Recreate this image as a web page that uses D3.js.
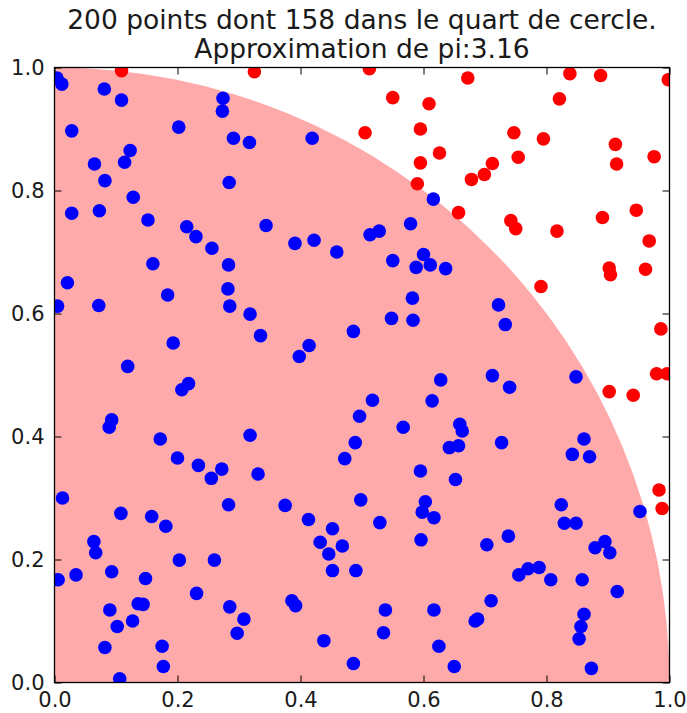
<!DOCTYPE html>
<html>
<head>
<meta charset="utf-8">
<script src="https://cdnjs.cloudflare.com/ajax/libs/d3/7.8.5/d3.min.js"></script>
<style>
  body { margin: 0; background: #fff; }
  text { font-family: "DejaVu Sans", sans-serif; fill: #1a1a1a; }
</style>
</head>
<body>
<div id="chart"></div>
<script>
// points dans le quart de cercle (bleu)
var insideX = [0.004,0.012,0.081,0.109,0.274,0.273,0.028,0.202,0.291,0.317,0.123,0.114,0.065,0.082,0.284,0.128,0.028,0.073,0.152,0.215,
  0.230,0.256,0.160,0.283,0.344,0.616,0.419,0.579,0.391,0.422,0.459,0.513,0.528,0.550,0.600,0.588,0.611,0.636,0.021,0.282,
  0.184,0.005,0.072,0.285,0.318,0.335,0.193,0.119,0.218,0.207,0.093,0.089,0.318,0.172,0.200,0.234,0.272,0.255,0.331,0.582,
  0.548,0.583,0.486,0.414,0.398,0.628,0.614,0.517,0.496,0.567,0.659,0.663,0.657,0.642,0.489,0.472,0.595,0.652,0.722,0.733,
  0.712,0.740,0.848,0.727,0.861,0.842,0.870,0.013,0.283,0.108,0.158,0.181,0.064,0.067,0.203,0.260,0.006,0.035,0.093,0.148,
  0.231,0.136,0.144,0.090,0.285,0.308,0.297,0.127,0.102,0.082,0.175,0.177,0.106,0.375,0.498,0.603,0.598,0.617,0.413,0.529,
  0.452,0.432,0.468,0.446,0.596,0.452,0.490,0.386,0.392,0.538,0.617,0.438,0.535,0.625,0.486,0.650,0.952,0.824,0.829,0.848,
  0.738,0.703,0.879,0.895,0.903,0.755,0.770,0.788,0.807,0.858,0.915,0.710,0.684,0.688,0.861,0.856,0.853,0.873];
var insideY = [0.983,0.973,0.965,0.947,0.950,0.929,0.897,0.903,0.885,0.878,0.865,0.846,0.843,0.816,0.813,0.789,0.763,0.767,0.752,0.741,
  0.725,0.706,0.681,0.679,0.743,0.786,0.885,0.746,0.714,0.719,0.700,0.728,0.734,0.686,0.696,0.675,0.679,0.673,0.650,0.640,
  0.630,0.612,0.613,0.612,0.599,0.564,0.552,0.514,0.486,0.476,0.427,0.415,0.402,0.396,0.365,0.353,0.347,0.332,0.339,0.625,
  0.592,0.589,0.571,0.548,0.530,0.492,0.458,0.459,0.433,0.415,0.420,0.409,0.385,0.382,0.390,0.364,0.344,0.330,0.614,0.582,
  0.499,0.480,0.497,0.390,0.396,0.371,0.367,0.300,0.289,0.275,0.270,0.254,0.229,0.211,0.199,0.199,0.167,0.175,0.180,0.169,
  0.145,0.128,0.127,0.118,0.123,0.103,0.080,0.100,0.091,0.057,0.059,0.026,0.006,0.288,0.297,0.294,0.277,0.268,0.265,0.260,
  0.250,0.228,0.222,0.209,0.232,0.182,0.182,0.133,0.125,0.118,0.118,0.068,0.081,0.059,0.031,0.026,0.278,0.289,0.259,0.259,
  0.238,0.224,0.219,0.229,0.211,0.175,0.185,0.187,0.167,0.167,0.148,0.133,0.100,0.103,0.111,0.091,0.071,0.023];

// points hors du quart de cercle (rouge)
var outsideX = [0.109,0.325,0.512,0.672,0.550,0.609,0.505,0.595,0.626,0.595,0.590,0.657,0.838,0.888,0.998,0.821,0.747,0.795,0.754,0.912,
  0.914,0.975,0.712,0.699,0.678,0.742,0.750,0.817,0.891,0.946,0.967,0.902,0.904,0.961,0.791,0.986,0.979,0.996,0.902,0.941,
  0.983,0.988];
var outsideY = [0.995,0.993,0.998,0.983,0.951,0.941,0.894,0.900,0.861,0.845,0.811,0.764,0.990,0.987,0.980,0.949,0.894,0.884,0.854,0.875,
  0.843,0.855,0.844,0.826,0.818,0.751,0.738,0.734,0.756,0.768,0.718,0.674,0.663,0.672,0.644,0.575,0.502,0.502,0.473,0.467,
  0.313,0.283];

var tickValues = [0.0, 0.2, 0.4, 0.6, 0.8, 1.0];

var W = 687, H = 713;
var margin = {top: 67.5, left: 54.5};
var w = 615, h = 615;

var svg = d3.select("#chart").append("svg")
    .attr("width", W).attr("height", H);

var x = d3.scaleLinear().domain([0, 1]).range([margin.left, margin.left + w]);
var y = d3.scaleLinear().domain([0, 1]).range([margin.top + h, margin.top]);

svg.append("defs").append("clipPath").attr("id", "clip")
    .append("rect")
    .attr("x", x(0)).attr("y", y(1))
    .attr("width", w).attr("height", h);

var plot = svg.append("g").attr("clip-path", "url(#clip)");

// quart de cercle
var p = d3.path();
p.moveTo(x(0), y(0));
p.lineTo(x(1), y(0));
p.arc(x(0), y(0), x(1) - x(0), 0, -Math.PI / 2, true);
p.closePath();
plot.append("path")
    .attr("d", p.toString())
    .attr("fill", "#ffaaaa");

function dots(xs, ys, color) {
    plot.append("g").selectAll("circle")
        .data(d3.zip(xs, ys))
        .enter().append("circle")
        .attr("cx", function (d) { return x(d[0]); })
        .attr("cy", function (d) { return y(d[1]); })
        .attr("r", 6.8)
        .attr("fill", color);
}
dots(insideX, insideY, "#0000ff");
dots(outsideX, outsideY, "#ff0000");

// axes (ticks vers l'interieur, sur les 4 cotes)
var tl = 7;
svg.append("g").attr("transform", "translate(0," + y(0) + ")")
    .call(d3.axisBottom(x).tickValues(tickValues).tickSize(-tl).tickPadding(10).tickFormat(d3.format(".1f")));
svg.append("g").attr("transform", "translate(0," + y(1) + ")")
    .call(d3.axisTop(x).tickValues(tickValues).tickSize(-tl).tickFormat(""));
svg.append("g").attr("transform", "translate(" + x(0) + ",0)")
    .call(d3.axisLeft(y).tickValues(tickValues).tickSize(-tl).tickPadding(10).tickFormat(d3.format(".1f")));
svg.append("g").attr("transform", "translate(" + x(1) + ",0)")
    .call(d3.axisRight(y).tickValues(tickValues).tickSize(-tl).tickFormat(""));

svg.selectAll(".domain").remove();
svg.selectAll(".tick line").attr("stroke", "#000").attr("stroke-width", 1);
svg.selectAll(".tick text").style("font-size", "21px").attr("fill", "#1a1a1a");

// cadre
svg.append("rect")
    .attr("x", x(0)).attr("y", y(1))
    .attr("width", w).attr("height", h)
    .attr("fill", "none").attr("stroke", "#000").attr("stroke-width", 1.3);

// titre
var n = insideX.length + outsideX.length;
var approx = 4 * insideX.length / n;
var title = svg.append("g");
title.append("text")
    .attr("x", x(0.5)).attr("y", 29)
    .attr("text-anchor", "middle").style("font-size", "26.5px")
    .text(n + " points dont " + insideX.length + " dans le quart de cercle.");
title.append("text")
    .attr("x", x(0.5)).attr("y", 57.5)
    .attr("text-anchor", "middle").style("font-size", "26.5px")
    .text("Approximation de pi:" + approx.toFixed(2));
</script>
</body>
</html>
